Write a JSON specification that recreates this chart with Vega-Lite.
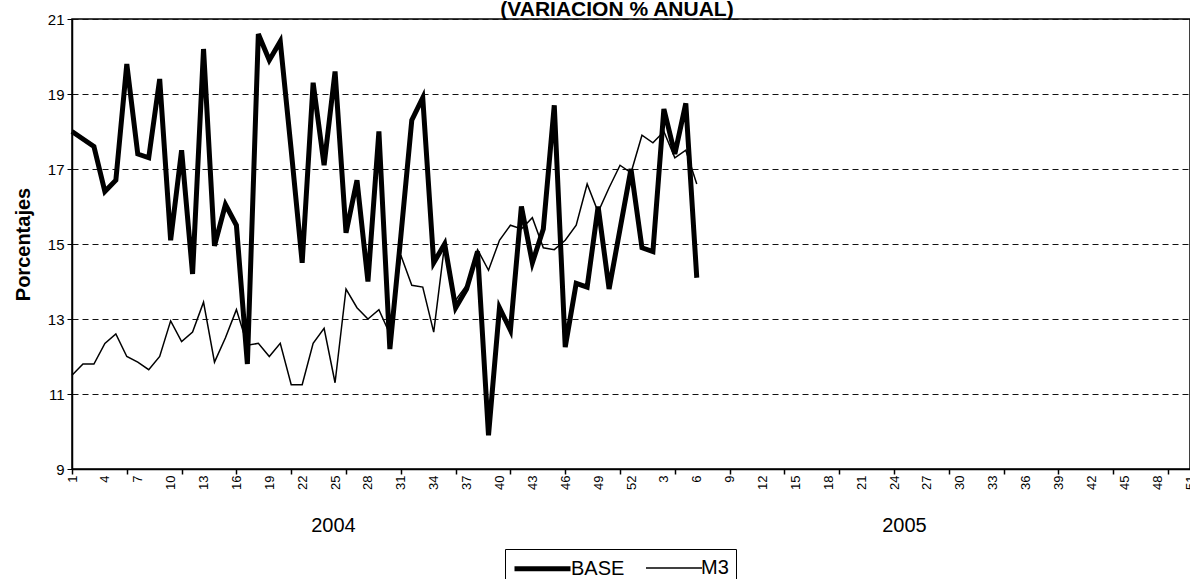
{
  "$schema": "https://vega.github.io/schema/vega-lite/v6.json",
  "width": 1118,
  "height": 450,
  "autosize": {"type": "none"},
  "padding": {"left": 72, "top": 19, "right": 0, "bottom": 110},
  "background": "white",
  "title": {
    "text": "(VARIACION % ANUAL)",
    "frame": "group",
    "anchor": "middle",
    "dx": -14,
    "offset": -8,
    "font": "Liberation Sans",
    "fontSize": 21,
    "fontWeight": "bold",
    "color": "black"
  },
  "config": {
    "view": {"stroke": "black", "strokeWidth": 1.5},
    "font": "Liberation Sans",
    "axis": {
      "labelFont": "Liberation Sans",
      "titleFont": "Liberation Sans",
      "labelColor": "black",
      "titleColor": "black",
      "domainColor": "black",
      "tickColor": "black"
    }
  },
  "data": {
    "values": [
      {"t": 1, "BASE": 18.0, "M3": 11.5},
      {"t": 2, "BASE": 17.8, "M3": 11.8},
      {"t": 3, "BASE": 17.6, "M3": 11.8},
      {"t": 4, "BASE": 16.4, "M3": 12.35},
      {"t": 5, "BASE": 16.7, "M3": 12.6},
      {"t": 6, "BASE": 19.8, "M3": 12.0},
      {"t": 7, "BASE": 17.4, "M3": 11.85},
      {"t": 8, "BASE": 17.3, "M3": 11.65},
      {"t": 9, "BASE": 19.4, "M3": 12.0},
      {"t": 10, "BASE": 15.1, "M3": 12.95},
      {"t": 11, "BASE": 17.5, "M3": 12.4},
      {"t": 12, "BASE": 14.2, "M3": 12.65},
      {"t": 13, "BASE": 20.2, "M3": 13.45},
      {"t": 14, "BASE": 14.95, "M3": 11.85},
      {"t": 15, "BASE": 16.05, "M3": 12.5},
      {"t": 16, "BASE": 15.5, "M3": 13.25},
      {"t": 17, "BASE": 11.8, "M3": 12.3},
      {"t": 18, "BASE": 20.6, "M3": 12.35},
      {"t": 19, "BASE": 19.9, "M3": 12.0},
      {"t": 20, "BASE": 20.4, "M3": 12.35},
      {"t": 21, "BASE": 17.5, "M3": 11.25},
      {"t": 22, "BASE": 14.5, "M3": 11.25},
      {"t": 23, "BASE": 19.3, "M3": 12.35},
      {"t": 24, "BASE": 17.1, "M3": 12.75},
      {"t": 25, "BASE": 19.6, "M3": 11.3},
      {"t": 26, "BASE": 15.3, "M3": 13.8},
      {"t": 27, "BASE": 16.7, "M3": 13.3},
      {"t": 28, "BASE": 14.0, "M3": 13.0},
      {"t": 29, "BASE": 18.0, "M3": 13.25},
      {"t": 30, "BASE": 12.2, "M3": 12.6},
      {"t": 31, "BASE": 15.2, "M3": 14.7},
      {"t": 32, "BASE": 18.3, "M3": 13.9},
      {"t": 33, "BASE": 18.9, "M3": 13.85},
      {"t": 34, "BASE": 14.5, "M3": 12.65},
      {"t": 35, "BASE": 15.0, "M3": 15.0},
      {"t": 36, "BASE": 13.3, "M3": 13.5},
      {"t": 37, "BASE": 13.8, "M3": 13.9},
      {"t": 38, "BASE": 14.8, "M3": 14.85},
      {"t": 39, "BASE": 9.9, "M3": 14.3},
      {"t": 40, "BASE": 13.3, "M3": 15.1},
      {"t": 41, "BASE": 12.7, "M3": 15.5},
      {"t": 42, "BASE": 16.0, "M3": 15.4},
      {"t": 43, "BASE": 14.5, "M3": 15.7},
      {"t": 44, "BASE": 15.4, "M3": 14.9},
      {"t": 45, "BASE": 18.7, "M3": 14.85},
      {"t": 46, "BASE": 12.25, "M3": 15.1},
      {"t": 47, "BASE": 13.95, "M3": 15.5},
      {"t": 48, "BASE": 13.85, "M3": 16.6},
      {"t": 49, "BASE": 16.0, "M3": 15.85},
      {"t": 50, "BASE": 13.8, "M3": 16.5},
      {"t": 51, "BASE": 15.4, "M3": 17.1},
      {"t": 52, "BASE": 17.0, "M3": 16.9},
      {"t": 53, "BASE": 14.9, "M3": 17.9},
      {"t": 54, "BASE": 14.8, "M3": 17.7},
      {"t": 55, "BASE": 18.6, "M3": 18.0},
      {"t": 56, "BASE": 17.4, "M3": 17.3},
      {"t": 57, "BASE": 18.75, "M3": 17.5},
      {"t": 58, "BASE": 14.1, "M3": 16.6}
    ]
  },
  "transform": [
    {"fold": ["BASE", "M3"], "as": ["serie", "v"]}
  ],
  "layer": [
    {
      "transform": [{"filter": "datum.serie === 'BASE'"}],
      "mark": {"type": "line", "color": "black", "strokeJoin": "miter"},
      "encoding": {
        "x": {
          "field": "t",
          "type": "quantitative",
          "scale": {"domain": [1, 103], "nice": false, "zero": false},
          "axis": {
            "orient": "bottom",
            "values": [1,4,7,10,13,16,19,22,25,28,31,34,37,40,43,46,49,52,55,58,61,64,67,70,73,76,79,82,85,88,91,94,97,100,103],
            "labelExpr": "'' + (datum.value > 52 ? datum.value - 52 : datum.value)",
            "labelAngle": -90,
            "labelFontSize": 13,
            "labelPadding": 6,
            "labelOverlap": false,
            "labelFlush": false,
            "labelBound": false,
            "ticks": false,
            "grid": false,
            "domain": true,
            "domainWidth": 1.5,
            "title": "2004",
            "titleX": 261,
            "titleY": 56,
            "titleBaseline": "middle",
            "titleAlign": "center",
            "titleFontSize": 20,
            "titleFontWeight": "normal"
          }
        },
        "y": {
          "field": "v",
          "type": "quantitative",
          "scale": {"domain": [9, 21], "nice": false, "zero": false},
          "axis": {
            "values": [9, 11, 13, 15, 17, 19, 21],
            "title": "Porcentajes",
            "titleFontSize": 20,
            "titleFontWeight": "bold",
            "titleX": -49,
            "titleY": 225,
            "titleAngle": -90,
            "titleBaseline": "middle",
            "titleAlign": "center",
            "labelFontSize": 15,
            "labelPadding": 3,
            "tickSize": 5,
            "grid": true,
            "gridColor": "#111111",
            "gridDash": [6, 4],
            "gridWidth": 1,
            "domainWidth": 1.5
          }
        },
        "strokeWidth": {
          "field": "serie",
          "type": "ordinal",
          "scale": {"domain": ["BASE", "M3"], "range": [5, 1.5]},
          "legend": {
            "title": null,
            "orient": "none",
            "legendX": 433,
            "legendY": 530,
            "direction": "horizontal",
            "symbolType": "M-2.8,0H2.8",
            "symbolSize": 400,
            "symbolOffset": 18,
            "symbolStrokeColor": "black",
            "labelOffset": 16,
            "labelFontSize": 20,
            "labelColor": "black",
            "labelFont": "Liberation Sans",
            "strokeColor": "black",
            "fillColor": "white",
            "padding": 7,
            "columnPadding": 18
          }
        }
      }
    },
    {
      "transform": [{"filter": "datum.serie === 'M3'"}],
      "mark": {"type": "line", "color": "black", "strokeJoin": "miter"},
      "encoding": {
        "x": {
          "field": "t",
          "type": "quantitative",
          "axis": {
            "orient": "bottom",
            "values": [1,6,11,16,21,26,31,36,41,46,51,56,61,66,71,76,81,86,91,96,101],
            "labels": false,
            "ticks": true,
            "tickSize": 5,
            "tickWidth": 1.5,
            "domain": false,
            "grid": false,
            "title": "2005",
            "titleX": 832,
            "titleY": 56,
            "titleBaseline": "middle",
            "titleAlign": "center",
            "titleFontSize": 20,
            "titleFontWeight": "normal"
          }
        },
        "y": {
          "field": "v",
          "type": "quantitative",
          "axis": {
            "values": [9, 11, 13, 15, 17, 19, 21],
            "title": "Porcentajes",
            "titleFontSize": 20,
            "titleFontWeight": "bold",
            "titleX": -49,
            "titleY": 225,
            "titleAngle": -90,
            "titleBaseline": "middle",
            "titleAlign": "center",
            "labelFontSize": 15,
            "labelPadding": 3,
            "tickSize": 5,
            "grid": true,
            "gridColor": "#111111",
            "gridDash": [6, 4],
            "gridWidth": 1,
            "domainWidth": 1.5
          }
        },
        "strokeWidth": {
          "field": "serie",
          "type": "ordinal",
          "scale": {"domain": ["BASE", "M3"], "range": [5, 1.5]}
        }
      }
    }
  ],
  "resolve": {"axis": {"x": "independent"}}
}
